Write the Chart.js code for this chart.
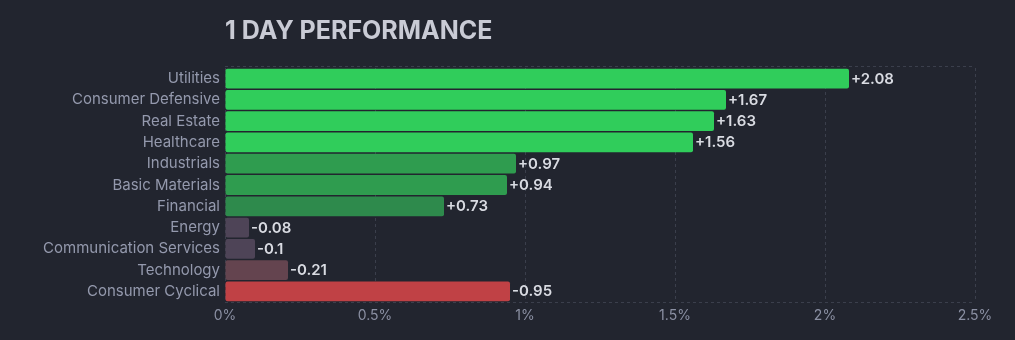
<!DOCTYPE html>
<html><head><meta charset="utf-8">
<script src="https://cdn.jsdelivr.net/npm/chart.js@4"></script>
<style>html,body{margin:0;padding:0;background:#22252f;}#wrap{width:1015px;height:340px;}</style>
</head><body><div id="wrap"><canvas id="c"></canvas></div>
<script>
const categories = ["Utilities","Consumer Defensive","Real Estate","Healthcare","Industrials","Basic Materials","Financial","Energy","Communication Services","Technology","Consumer Cyclical"];
const changes = [2.08,1.67,1.63,1.56,0.97,0.94,0.73,-0.08,-0.1,-0.21,-0.95];
const barColors = ["#30cd5b","#30cd5b","#30cd5b","#30cd5b","#2f9c4f","#2f9c4f","#2e8a4c","#4e4457","#4e4457","#64444f","#c04145"];
const xTicks = [0,0.5,1,1.5,2,2.5];

const valueLabels = {
  id:'valueLabels',
  afterDatasetsDraw(chart){
    const ctx = chart.ctx; const meta = chart.getDatasetMeta(0);
    ctx.save();
    ctx.font = '600 15px Inter';
    ctx.fillStyle = '#d9dbe2';
    ctx.textBaseline = 'middle'; ctx.textAlign = 'left';
    meta.data.forEach((bar,i)=>{
      const v = changes[i];
      ctx.fillText((v>0?'+':'')+v, bar.x+2, bar.y+0.5);
    });
    ctx.restore();
  }
};
const frameLines = {
  id:'frameLines',
  beforeDatasetsDraw(chart){
    const {ctx, chartArea:a} = chart;
    ctx.save();
    ctx.strokeStyle = '#3b3f4c'; ctx.lineWidth = 1; ctx.setLineDash([3,3]);
    ctx.beginPath();
    ctx.moveTo(a.left, a.top-1.5); ctx.lineTo(a.right, a.top-1.5);
    ctx.moveTo(a.left, a.bottom+0.5); ctx.lineTo(a.right, a.bottom+0.5);
    ctx.stroke();
    ctx.restore();
  }
};

new Chart(document.getElementById('c'), {
  type:'bar',
  data:{ labels:categories, datasets:[{ data:changes.map(Math.abs), backgroundColor:barColors, borderRadius:2, borderSkipped:false, barPercentage:0.93, categoryPercentage:1 }]},
  options:{
    indexAxis:'y', responsive:true, maintainAspectRatio:false, animation:false,
    layout:{padding:{left:0,right:40,top:0,bottom:0}},
    plugins:{
      legend:{display:false}, tooltip:{enabled:false},
      title:{display:true, text:'1 DAY PERFORMANCE', align:'start', fullSize:false, color:'#c9cbd5',
        font:{family:'Inter', size:25, weight:'bold'}, padding:{top:16,bottom:22}}
    },
    scales:{
      x:{ min:0, max:2.5, position:'bottom',
        afterBuildTicks(s){ s.ticks = xTicks.map(v=>({value:v})); },
        afterFit(s){ s.height = 38; },
        grid:{ color:'#3b3f4c', drawTicks:false },
        border:{ display:false, dash:[3,3] },
        ticks:{ color:'#8b90a3', padding:5, font:{family:'Inter', size:14}, callback:(v)=>v+'%' }
      },
      y:{
        afterFit(s){ s.width = 225; },
        grid:{ display:false, drawTicks:false }, border:{display:false},
        ticks:{ color:'#9499ad', padding:5, font:{family:'Inter', size:15} }
      }
    }
  },
  plugins:[frameLines, valueLabels]
});
</script>
<script>
const ch = Chart.getChart('c');
ch.options.scales.x.border.dash = [3,3];
ch.options.scales.x.grid.borderDash = [3,3];
ch.update();
</script>
</body></html>
